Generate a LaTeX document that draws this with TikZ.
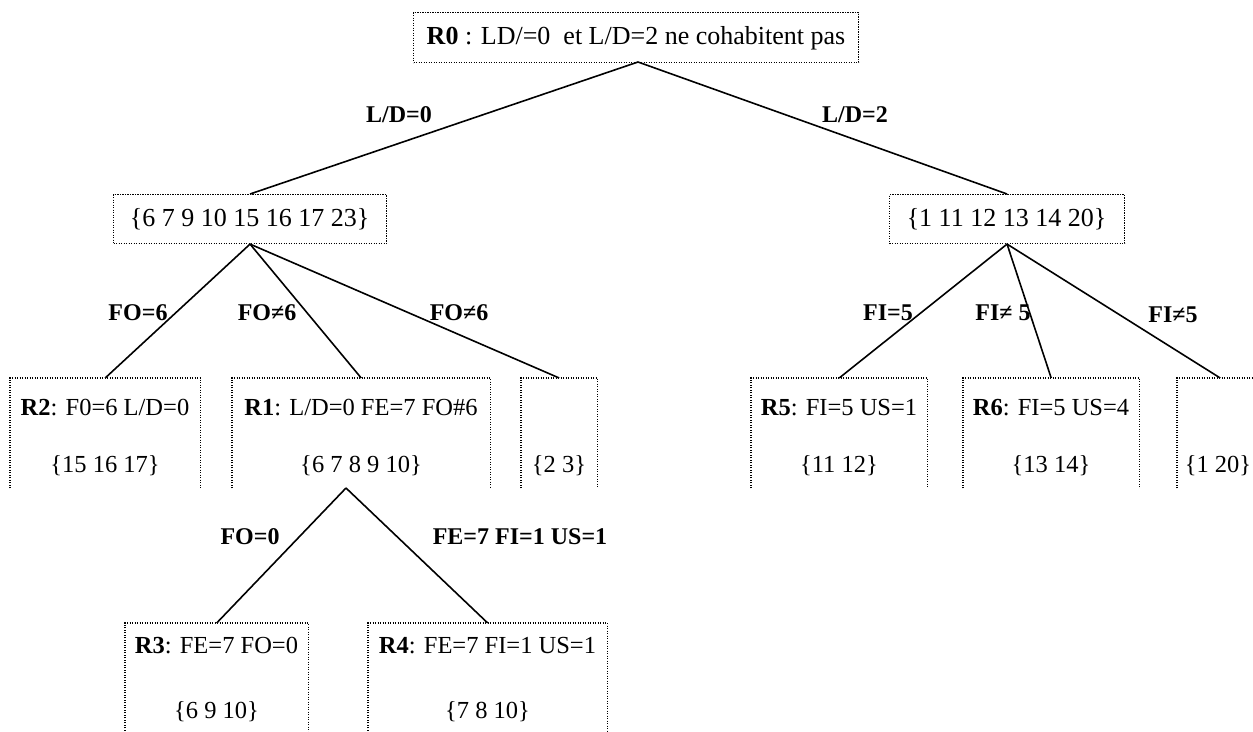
\documentclass[tikz,border=0pt]{standalone}
\usepackage{fontspec}
\setmainfont{Liberation Serif}
\begin{document}
\begin{tikzpicture}[x=1pt,y=-1pt,
  dotline/.style={line width=1.1pt, dash pattern=on 1.1pt off 1.4pt},
  closedbox/.style={draw, dotline, anchor=north west, inner sep=0pt},
  openbox/.style={anchor=north west, inner sep=0pt},
  txt/.style={font=\fontsize{24.5}{28}\selectfont, inner sep=0pt},
  bigtxt/.style={font=\fontsize{26}{30}\selectfont, inner sep=0pt},
  lbl/.style={font=\fontsize{24}{28}\selectfont\bfseries, inner sep=0pt},
  link/.style={line width=1.6pt}]
\clip (0,0) rectangle (1253,731);

% root and the two sets
\node[closedbox, minimum width=445pt, minimum height=50pt] (r0) at (413,12) {};
\node[bigtxt] (r0t) at (636,38) {\textbf{R0} : LD/=0\ \ et L/D=2 ne cohabitent pas};
\node[closedbox, minimum width=273pt, minimum height=49pt] (sl) at (113,194) {};
\node[bigtxt] (slt) at (249.5,219) {\{6 7 9 10 15 16 17 23\}};
\node[closedbox, minimum width=235pt, minimum height=49pt] (sr) at (889,194) {};
\node[bigtxt] (srt) at (1006.5,219) {\{1 11 12 13 14 20\}};

% second row (open at the bottom)
\node[openbox, minimum width=190pt, minimum height=110pt] (r2) at (10,378) {};
\node[openbox, minimum width=258pt, minimum height=110pt] (r1) at (232,378) {};
\node[openbox, minimum width=76pt, minimum height=110pt] (s23) at (521,378) {};
\node[openbox, minimum width=176pt, minimum height=110pt] (r5) at (751,378) {};
\node[openbox, minimum width=176pt, minimum height=110pt] (r6) at (963,378) {};
\node[openbox, minimum width=86pt, minimum height=110pt] (s120) at (1177,378) {};
% third row
\node[openbox, minimum width=183pt, minimum height=120pt] (r3) at (125,623) {};
\node[openbox, minimum width=239pt, minimum height=120pt] (r4) at (368,623) {};

\foreach \b in {r2,r1,s23,r5,r6,s120,r3,r4}
  \draw[dotline] (\b.south west) -- (\b.north west) -- (\b.north east) -- (\b.south east);

\node[txt] (r2t) at (105,408) {\textbf{R2}: F0=6 L/D=0};
\node[txt] (r2s) at (105,466) {\{15 16 17\}};
\node[txt] (r1t) at (361,408) {\textbf{R1}: L/D=0 FE=7 FO\#6};
\node[txt] (r1s) at (361,466) {\{6 7 8 9 10\}};
\node[txt] (s23t) at (559,466) {\{2 3\}};
\node[txt] (r5t) at (839,408) {\textbf{R5}: FI=5 US=1};
\node[txt] (r5s) at (839,466) {\{11 12\}};
\node[txt] (r6t) at (1051,408) {\textbf{R6}: FI=5 US=4};
\node[txt] (r6s) at (1051,466) {\{13 14\}};
\node[txt] (s120t) at (1218,466) {\{1 20\}};
\node[txt] (r3t) at (216.5,646) {\textbf{R3}: FE=7 FO=0};
\node[txt] (r3s) at (216.5,712) {\{6 9 10\}};
\node[txt] (r4t) at (487.5,646) {\textbf{R4}: FE=7 FI=1 US=1};
\node[txt] (r4s) at (487.5,712) {\{7 8 10\}};

% connectors
\coordinate (r0b) at (638,62);
\coordinate (r1b) at (346,488);
\draw[link] (r0b) -- (sl.north);
\draw[link] (r0b) -- (sr.north);
\draw[link] (sl.south) -- (r2.north);
\draw[link] (sl.south) -- (r1.north);
\draw[link] (sl.south) -- (s23.north);
\draw[link] (sr.south) -- (r5.north);
\draw[link] (sr.south) -- (r6.north);
\draw[link] (sr.south) -- (s120.north);
\draw[link] (r1b) -- (r3.north);
\draw[link] (r1b) -- (r4.north);

% branch labels
\node[lbl] (l1) at (399,115) {L/D=0};
\node[lbl] (l2) at (855,115) {L/D=2};
\node[lbl] (l3) at (138,313) {FO=6};
\node[lbl] (l4) at (267,313) {FO≠6};
\node[lbl] (l5) at (459,313) {FO≠6};
\node[lbl] (l6) at (888,313) {FI=5};
\node[lbl] (l7) at (1003,313) {FI≠ 5};
\node[lbl] (l8) at (1173,315) {FI≠5};
\node[lbl] (l9) at (250,537) {FO=0};
\node[lbl] (l10) at (520,537) {FE=7 FI=1 US=1};
\end{tikzpicture}
\end{document}
